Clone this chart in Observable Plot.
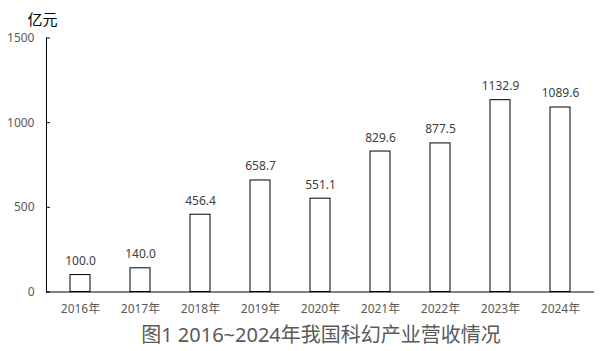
<!DOCTYPE html>
<html>
<head>
<meta charset="utf-8">
<script src="https://cdn.jsdelivr.net/npm/d3@7"></script>
<script src="https://cdn.jsdelivr.net/npm/@observablehq/plot@0.6"></script>
<style>
  html, body { margin: 0; padding: 0; background: #fff; }
  #chart svg { display: block; }
  #title {
    width: 600px; box-sizing: border-box; padding-left: 42px;
    text-align: center; font-family: "Noto Sans", "Noto Sans CJK SC", sans-serif;
    font-size: 20px; line-height: 30px; color: #595959; white-space: nowrap;
  }
</style>
</head>
<body>
<div id="chart"></div>
<div id="title">图1 2016~2024年我国科幻产业营收情况</div>
<script>
const years = ["2016年","2017年","2018年","2019年","2020年","2021年","2022年","2023年","2024年"];
const revenue = [100.0, 140.0, 456.4, 658.7, 551.1, 829.6, 877.5, 1132.9, 1089.6];
const yTicks = [0, 500, 1000, 1500];
const unitLabel = "亿元";

const data = years.map((y, i) => ({year: y, value: revenue[i]}));

const chart = Plot.plot({
  width: 600,
  height: 320,
  marginLeft: 46,
  marginRight: 6,
  marginTop: 37.5,
  marginBottom: 28.5,
  style: {fontFamily: '"Noto Sans", "Noto Sans CJK SC", sans-serif', fontSize: "12px", background: "#fff"},
  x: {domain: years, paddingInner: 0.67, paddingOuter: 0.335, label: null},
  y: {domain: [0, 1500], label: null},
  marks: [
    Plot.axisX({tickSize: 0, tickPadding: 12, fill: "#595959", fontSize: 12}),
    Plot.axisY({ticks: yTicks, tickFormat: d => String(d), tickSize: -4, tickPadding: 16, stroke: "#000", fill: "#595959", fontSize: 12}),
    Plot.frame({anchor: "left", stroke: "#000"}),
    Plot.barY(data, {x: "year", y: "value", fill: "#fff", stroke: "#000", strokeWidth: 1}),
    Plot.ruleY([0], {stroke: "#000"}),
    Plot.text(data, {x: "year", y: "value", text: d => d.value.toFixed(1), lineAnchor: "bottom", dy: -10, fill: "#404040", fontSize: 12}),
    Plot.text([unitLabel], {frameAnchor: "top-left", textAnchor: "start", lineAnchor: "middle", dx: -19, dy: -17.5, fill: "#000", fontSize: 15, fontFamily: '"Noto Sans CJK SC", sans-serif'})
  ]
});
document.getElementById("chart").appendChild(chart);
</script>
</body>
</html>
